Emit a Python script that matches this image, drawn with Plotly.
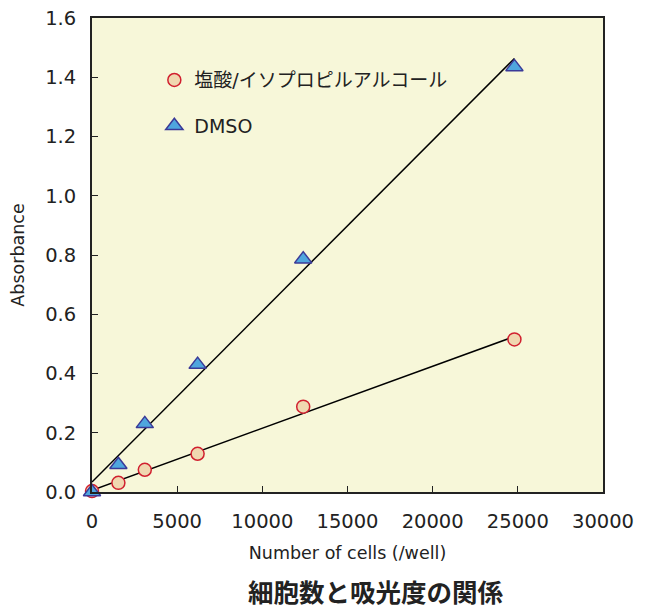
import numpy as np
import plotly.graph_objects as go

cells = [0, 1550, 3100, 6200, 12400, 24800]
hcl_ipa = [0.003, 0.031, 0.075, 0.129, 0.288, 0.515]
dmso = [0.0, 0.092, 0.23, 0.43, 0.786, 1.435]
name_hcl = "塩酸/イソプロピルアルコール"
name_dmso = "DMSO"
x_ticks = [0, 5000, 10000, 15000, 20000, 25000, 30000]
y_ticks = [0.0, 0.2, 0.4, 0.6, 0.8, 1.0, 1.2, 1.4, 1.6]

FONT = "DejaVu Sans, Noto Sans CJK JP"
CJK = "Noto Sans CJK JP"

fig = go.Figure()

xs = np.array(cells, dtype=float)
for ys in (hcl_ipa, dmso):
    k, b = np.polyfit(xs, np.array(ys), 1)
    xl = np.array([xs.min(), xs.max()])
    fig.add_trace(go.Scatter(x=xl, y=k * xl + b, mode="lines",
                             line=dict(color="black", width=1.5),
                             showlegend=False, hoverinfo="skip", cliponaxis=False))

fig.add_trace(go.Scatter(x=cells, y=hcl_ipa, mode="markers", name=name_hcl,
                         legendgroup="a", cliponaxis=False,
                         marker=dict(symbol="circle", size=13, color="#F0D7B0",
                                     line=dict(color="#D1202F", width=1.5))))
fig.add_trace(go.Scatter(x=cells, y=dmso, mode="markers", name=name_dmso,
                         legendgroup="b", cliponaxis=False,
                         marker=dict(symbol="triangle-up", size=15, color="#4FA6DE",
                                     line=dict(color="#3B3A98", width=1.5))))

axis_common = dict(showline=True, linecolor="#222", linewidth=1.8, mirror=True,
                   ticks="inside", ticklen=6, tickcolor="#222", tickwidth=1,
                   showgrid=False, zeroline=False, automargin=False,
                   ticklabeloverflow="allow",
                   tickfont=dict(family=FONT, size=19.5, color="#222"))

fig.update_xaxes(range=[0, 30000], tickvals=x_ticks,
                 ticktext=[str(v) for v in x_ticks], ticklabelstandoff=11,
                 title=dict(text="Number of cells (/well)", standoff=14,
                            font=dict(family=FONT, size=17.5, color="#222")),
                 **axis_common)
fig.update_yaxes(range=[0, 1.6], tickvals=y_ticks,
                 ticktext=[f"{v:.1f}" for v in y_ticks], ticklabelstandoff=10,
                 title=dict(text="Absorbance", standoff=18,
                            font=dict(family=FONT, size=17.5, color="#222")),
                 **axis_common)

# the page body has an 8px margin, so the figure is sized/offset to compensate
fig.update_layout(
    width=638, height=600,
    margin=dict(l=84, r=43, t=10, b=116),
    paper_bgcolor="white", plot_bgcolor="#F7F7D9",
    font=dict(family=FONT, color="#222"),
    legend=dict(x=0.122, y=0.909, xanchor="left", yanchor="top",
                bgcolor="rgba(0,0,0,0)", traceorder="grouped", tracegroupgap=18,
                font=dict(family=FONT, size=19, color="#222")),
    annotations=[dict(text="<b>細胞数と吸光度の関係</b>", xref="paper", yref="paper",
                      x=0.556, y=-0.2068, yanchor="middle", showarrow=False,
                      font=dict(family=CJK, size=25.5, color="#222"))],
)

fig.write_html("out.html")
